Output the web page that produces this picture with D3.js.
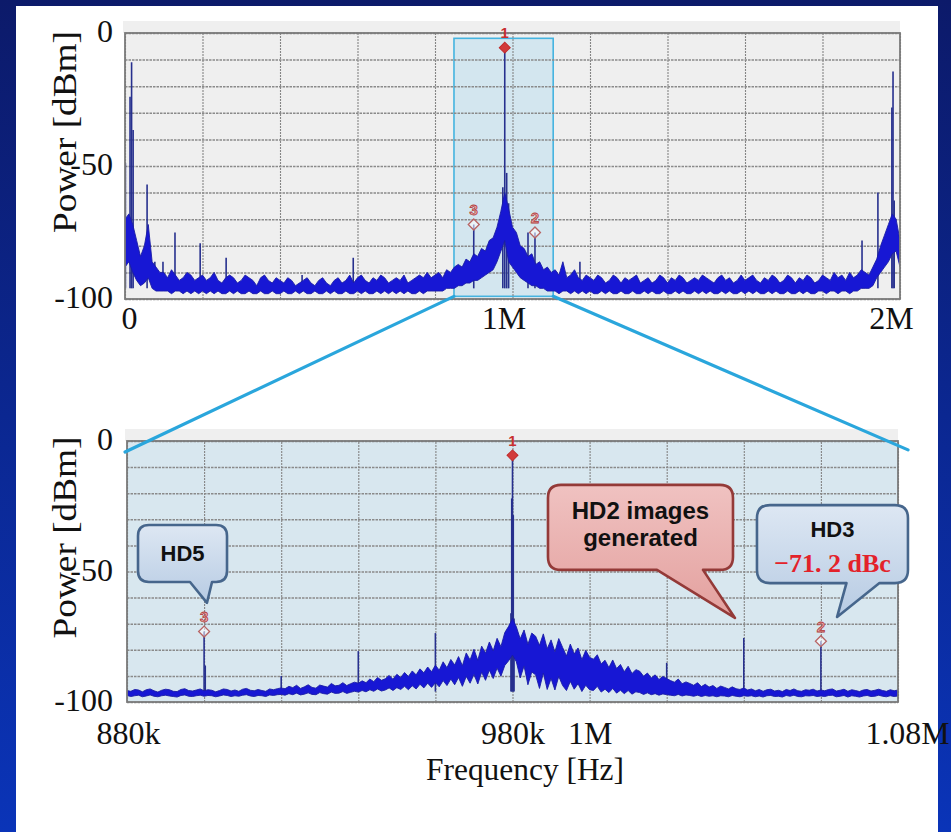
<!DOCTYPE html>
<html>
<head>
<meta charset="utf-8">
<script src="https://cdn.jsdelivr.net/npm/d3@7"></script>
<style>
  html, body { margin: 0; padding: 0; background: #fff; }
  svg { display: block; }
</style>
</head>
<body>
<svg id="chart" width="951" height="832"></svg>
<script>
// ---------- Overview spectrum: 0 .. 2 MHz, 10 kHz bins ----------
const overviewStart = 0;
const overviewStep = 10e3;
// upper edge of the noise band per bin [dBm]
const overviewHi = [
  -70,-68,-72,-78,-84,-80,-72,-86,-88,-90,
  -90,-92,-89,-91,-93,-92,-90,-91,-93,-92,
  -91,-93,-92,-90,-93,-94,-92,-91,-92,-94,
  -93,-91,-92,-93,-95,-92,-91,-93,-94,-92,
  -93,-94,-92,-93,-95,-94,-93,-92,-94,-95,
  -93,-92,-94,-95,-93,-92,-94,-93,-91,-94,
  -92,-91,-93,-94,-92,-93,-91,-92,-94,-93,
  -92,-93,-91,-94,-93,-92,-91,-92,-90,-92,
  -91,-90,-92,-89,-90,-88,-87,-88,-85,-86,
  -83,-84,-81,-82,-78,-77,-73,-67,-60,-66,
  -73,-75,-80,-81,-84,-83,-87,-86,-89,-88,
  -90,-89,-91,-86,-92,-91,-89,-92,-93,-91,
  -92,-93,-91,-92,-94,-93,-91,-92,-94,-92,
  -93,-92,-91,-94,-93,-92,-94,-93,-91,-92,
  -94,-92,-93,-91,-92,-94,-93,-92,-93,-91,
  -92,-93,-94,-92,-91,-93,-92,-94,-93,-91,
  -93,-92,-91,-93,-94,-92,-93,-91,-92,-94,
  -93,-91,-92,-94,-92,-93,-91,-92,-94,-93,
  -91,-92,-93,-90,-92,-91,-93,-90,-92,-91,
  -89,-90,-91,-88,-85,-80,-76,-72,-68,-70,
  -78
];
// lower edge of the noise band per bin [dBm]
const overviewLo = [
  -88,-86,-90,-93,-95,-94,-92,-96,-97,-97,
  -97,-97,-98,-97,-97,-98,-97,-98,-97,-98,
  -97,-98,-97,-98,-97,-98,-98,-97,-98,-97,
  -98,-98,-97,-98,-98,-97,-98,-98,-97,-98,
  -98,-97,-98,-98,-97,-98,-97,-98,-98,-97,
  -98,-98,-97,-98,-97,-98,-98,-97,-98,-98,
  -97,-98,-97,-98,-98,-97,-98,-97,-98,-97,
  -98,-97,-98,-97,-98,-98,-97,-98,-97,-97,
  -97,-97,-97,-96,-96,-96,-95,-95,-94,-94,
  -93,-93,-92,-91,-90,-89,-86,-82,-78,-86,
  -88,-90,-92,-93,-94,-95,-95,-96,-96,-97,
  -97,-97,-98,-97,-97,-98,-97,-98,-97,-98,
  -97,-98,-98,-97,-98,-97,-98,-98,-97,-98,
  -98,-97,-98,-98,-97,-98,-97,-98,-98,-97,
  -98,-98,-97,-98,-97,-98,-98,-97,-98,-97,
  -98,-97,-98,-98,-97,-98,-97,-98,-98,-97,
  -98,-97,-98,-97,-98,-98,-97,-98,-97,-98,
  -98,-97,-98,-98,-97,-98,-97,-98,-98,-97,
  -97,-98,-97,-97,-98,-97,-97,-98,-97,-97,
  -96,-96,-96,-95,-92,-90,-88,-86,-83,-82,
  -88
];
// discrete tones [frequency Hz, dBm]
const overviewSpurs = [
  [1e3,-49],[13e3,-24],[17e3,-11],[21e3,-36.5],[57e3,-57],[77e3,-86],[98e3,-86],
  [129e3,-75],[194e3,-79],[261e3,-84.5],[457e3,-91],[589e3,-84.5],
  [900e3,-72],[975e3,-58],[980e3,-5.5],[985e3,-52.6],[990e3,-64],
  [1040e3,-75],[1058e3,-75],[1174e3,-86],
  [1902e3,-78],[1943e3,-60],[1979e3,-28],[1982e3,-14.5],[1985e3,-63]
];
const overviewMarkers = [
  { id: "1", f: 980e3,  db: -5.5, filled: true },
  { id: "3", f: 900e3,  db: -72,  filled: false },
  { id: "2", f: 1058e3, db: -75,  filled: false }
];
const overviewTicks = [0, 1e6, 2e6];
const overviewTickLabels = ["0", "1M", "2M"];
const overviewGrid = d3.range(0, 2e6 + 1, 200e3);
// frequency span magnified in the lower plot, as outlined on the overview
const zoomWindow = [849e3, 1105e3];

// ---------- Zoomed spectrum: 880 kHz .. 1.08 MHz, 1 kHz bins ----------
const zoomStart = 880e3;
const zoomStep = 1e3;
const zoomHi = [
  -95.6,-95.9,-95.2,-95.4,-96.1,-95.3,-95.0,-95.7,-96.2,-95.5,-95.1,-95.3,-95.9,-96.0,-95.2,-94.9,-95.6,-95.8,-95.4,-95.0,
  -95.7,-95.3,-95.5,-96.1,-95.6,-95.0,-95.2,-95.8,-95.4,-95.9,-95.1,-94.8,-95.5,-95.7,-95.2,-95.6,-95.9,-95.0,-95.3,-94.9,
  -94.6,-94.9,-94.0,-94.5,-93.6,-94.8,-94.2,-93.4,-94.4,-94.7,-93.5,-93.9,-94.3,-92.9,-93.8,-93.6,-92.6,-93.7,-93.0,-92.4,
  -92.8,-91.9,-92.6,-91.2,-92.2,-90.6,-91.7,-91.1,-89.8,-91.3,-89.4,-90.6,-88.7,-90.2,-88.1,-89.6,-87.3,-88.8,-86.6,-88.4,
  -85.9,-87.8,-84.6,-86.9,-83.7,-85.8,-82.6,-86.1,-81.2,-83.9,-79.8,-84.0,-78.6,-81.3,-77.0,-80.4,-75.6,-78.8,-73.4,-71.0,
  -68,
  -71.2,-75.8,-72.4,-77.9,-73.6,-74.8,-78.3,-73.9,-79.6,-76.2,-80.8,-75.7,-79.1,-82.4,-77.8,-81.6,-79.3,-83.8,-80.2,-82.9,
  -83.6,-81.9,-85.4,-84.0,-86.8,-83.9,-87.2,-85.6,-88.4,-86.3,-89.1,-87.6,-88.2,-90.1,-88.9,-90.8,-89.6,-91.4,-90.2,-91.0,
  -91.8,-92.4,-91.2,-93.0,-92.3,-92.9,-93.6,-92.6,-94.1,-93.2,-94.3,-93.7,-94.8,-93.9,-94.4,-95.0,-94.2,-94.9,-95.2,-94.6,
  -95.4,-95.0,-95.7,-95.2,-95.9,-95.3,-95.1,-95.8,-95.5,-96.0,-95.2,-95.6,-95.0,-95.7,-95.9,-95.3,-95.5,-95.1,-95.8,-95.4,
  -95.7,-95.2,-95.0,-95.8,-95.5,-95.1,-95.9,-95.3,-95.6,-96.0,-95.4,-95.2,-95.8,-95.5,-95.1,-95.6,-95.9,-95.3,-95.7,-95.4
];
const zoomLo = [
  -97.5,-97.9,-97.6,-97.4,-98.0,-97.7,-97.3,-97.8,-98.0,-97.6,-97.4,-97.7,-97.9,-98.1,-97.5,-97.3,-97.8,-97.9,-97.6,-97.4,
  -97.8,-97.5,-97.6,-98.0,-97.7,-97.3,-97.5,-97.9,-97.6,-97.8,-97.4,-97.2,-97.7,-97.9,-97.5,-97.6,-97.9,-97.3,-97.5,-97.2,
  -97.1,-97.4,-96.8,-97.2,-96.6,-97.3,-97.0,-96.5,-97.1,-97.2,-96.4,-96.8,-97.0,-96.2,-96.7,-96.6,-96.0,-96.7,-96.3,-95.9,
  -96.2,-95.6,-96.1,-95.3,-95.9,-95.0,-95.8,-95.4,-94.6,-95.6,-94.5,-95.2,-94.0,-95.3,-93.8,-95.0,-93.2,-94.6,-92.8,-94.4,
  -92.6,-94.2,-91.8,-93.7,-91.2,-93.4,-90.6,-94.0,-90.2,-92.8,-89.4,-93.1,-88.6,-91.7,-87.8,-91.0,-87.0,-90.1,-86.0,-84.2,
  -82,
  -84.6,-90.8,-86.2,-93.4,-88.5,-89.6,-94.8,-88.9,-95.2,-91.0,-95.4,-90.2,-93.7,-95.6,-92.1,-95.1,-93.0,-96.0,-93.6,-95.3,
  -95.6,-94.0,-96.2,-95.1,-96.4,-94.8,-96.6,-95.5,-96.8,-95.6,-97.0,-96.1,-96.4,-97.1,-96.5,-97.2,-96.8,-97.4,-96.9,-97.2,
  -97.4,-97.6,-97.1,-97.7,-97.3,-97.5,-97.8,-97.4,-97.9,-97.5,-97.8,-97.6,-98.0,-97.6,-97.7,-98.0,-97.5,-97.8,-98.0,-97.6,
  -97.8,-97.6,-98.0,-97.7,-98.1,-97.6,-97.5,-97.9,-97.8,-98.1,-97.5,-97.8,-97.4,-97.9,-98.0,-97.6,-97.7,-97.5,-97.9,-97.7,
  -97.9,-97.5,-97.4,-98.0,-97.8,-97.5,-98.1,-97.6,-97.8,-98.1,-97.7,-97.5,-97.9,-97.8,-97.4,-97.8,-98.0,-97.6,-97.9,-97.7
];
const zoomSpurs = [
  [900e3,-73],[900.3e3,-86],[920e3,-90],[940e3,-80.5],[960e3,-73.6],
  [979.6e3,-66],[979.8e3,-22],[980e3,-5.5],[980.2e3,-28.4],[980.4e3,-68],
  [1020e3,-85],[1040e3,-75.5],[1060e3,-76.7]
];
const zoomMarkers = [
  { id: "1", f: 980e3,  db: -5.5,  filled: true },
  { id: "3", f: 900e3,  db: -73,   filled: false },
  { id: "2", f: 1060e3, db: -76.7, filled: false }
];
const zoomTicks = [880e3, 980e3, 1e6, 1.08e6];
const zoomTickLabels = ["880k", "980k", "1M", "1.08M"];
const zoomGrid = d3.range(880e3, 1080e3 + 1, 20e3);

// ---------- shared power axis ----------
const powerTicks = [0, -50, -100];
const powerTickLabels = ["0", "-50", "-100"];
const powerGrid = d3.range(0, -101, -10);

// ---------- annotations on the zoomed plot ----------
const calloutLabels = [
  { lines: ["HD5"], f: 894.4e3, db: -43.1, tipF: 900.75e3, tipDb: -62, kind: "blue" },
  { lines: ["HD2 images", "generated"], f: 1013.2e3, db: -33.1, tipF: 1037.7e3, tipDb: -67.8, kind: "red" },
  { lines: ["HD3", "\u221271. 2 dBc"], f: 1063.0e3, db: -39.5, tipF: 1064.2e3, tipDb: -67.4, kind: "blue" }
];

// ================= drawing =================
const svg = d3.select("#chart");
const defs = svg.append("defs");

const bgGrad = defs.append("linearGradient").attr("id", "bgGrad")
  .attr("x1", 0).attr("y1", 0).attr("x2", 0).attr("y2", 1);
bgGrad.append("stop").attr("offset", "0%").attr("stop-color", "#0c1a6a");
bgGrad.append("stop").attr("offset", "100%").attr("stop-color", "#0a34b8");

const blueFill = defs.append("linearGradient").attr("id", "blueFill")
  .attr("x1", 0).attr("y1", 0).attr("x2", 0).attr("y2", 1);
blueFill.append("stop").attr("offset", "0%").attr("stop-color", "#dde7f3");
blueFill.append("stop").attr("offset", "100%").attr("stop-color", "#b7cbe3");

const redFill = defs.append("linearGradient").attr("id", "redFill")
  .attr("x1", 0).attr("y1", 0).attr("x2", 0).attr("y2", 1);
redFill.append("stop").attr("offset", "0%").attr("stop-color", "#f0c2c1");
redFill.append("stop").attr("offset", "100%").attr("stop-color", "#e3a09e");

svg.append("rect").attr("width", 951).attr("height", 832).attr("fill", "url(#bgGrad)");
svg.append("rect").attr("x", 16).attr("y", 6).attr("width", 922).attr("height", 826).attr("fill", "#ffffff");

const serif = "'Liberation Serif', 'DejaVu Serif', serif";
const sans = "'Liberation Sans', Arial, sans-serif";

function drawPanel(o) {
  const x = d3.scaleLinear().domain(o.xDomain).range([o.left, o.right]);
  const y = d3.scaleLinear().domain([0, -100]).range([o.top, o.bottom]);
  const g = svg.append("g");
  const w = o.right - o.left, h = o.bottom - o.top;

  defs.append("clipPath").attr("id", o.id + "-clip")
    .append("rect").attr("x", o.left).attr("y", o.top).attr("width", w).attr("height", h);

  // header strip and plot background
  g.append("rect").attr("x", o.left - 2).attr("y", o.top - 12).attr("width", w + 2).attr("height", 12)
    .attr("fill", "#efefef");
  g.append("rect").attr("x", o.left).attr("y", o.top).attr("width", w).attr("height", h)
    .attr("fill", o.plotFill);

  // magnified span on the overview
  if (o.window) {
    g.append("rect")
      .attr("x", x(o.window[0])).attr("y", y(-2))
      .attr("width", x(o.window[1]) - x(o.window[0])).attr("height", y(-99) - y(-2))
      .attr("fill", "#d3e6ef").attr("stroke", "#45b4e0").attr("stroke-width", 1.6);
  }

  // grid
  const gx = g.append("g").attr("transform", `translate(0,${o.bottom})`)
    .call(d3.axisBottom(x).tickValues(o.grid).tickSize(-h).tickFormat(""));
  gx.select(".domain").remove();
  gx.selectAll("line").attr("stroke", "#858585").attr("stroke-width", 1.1).attr("stroke-dasharray", "2,1");
  const gy = g.append("g").attr("transform", `translate(${o.left},0)`)
    .call(d3.axisLeft(y).tickValues(powerGrid).tickSize(-w).tickFormat(""));
  gy.select(".domain").remove();
  gy.selectAll("line").attr("stroke", "#8a8a8a").attr("stroke-width", 1.5).attr("stroke-dasharray", "2.5,1");

  // spectrum: tones as stems, noise floor as a band between its edges
  const bins = o.hi.map((v, i) => ({ f: o.start + i * o.step, hi: v, lo: o.lo[i] }));
  const plot = g.append("g").attr("clip-path", `url(#${o.id}-clip)`);
  plot.selectAll(".spur").data(o.spurs).join("line")
    .attr("x1", d => x(d[0])).attr("x2", d => x(d[0]))
    .attr("y1", y(-96)).attr("y2", d => y(d[1]))
    .attr("stroke", "#27308e").attr("stroke-width", 1.6);
  plot.append("path").datum(bins)
    .attr("d", d3.area().x(d => x(d.f)).y0(d => y(d.lo)).y1(d => y(d.hi)))
    .attr("fill", "#1717d4").attr("stroke", "#1a1ca6").attr("stroke-width", 0.9);

  // frame
  g.append("rect").attr("x", o.left).attr("y", o.top).attr("width", w).attr("height", h)
    .attr("fill", "none").attr("stroke", "#7a7a7a").attr("stroke-width", 1.8);

  // markers
  const mk = g.selectAll(".marker").data(o.markers).join("g")
    .attr("transform", d => `translate(${x(d.f)},${y(d.db)})`);
  mk.append("path")
    .attr("d", d3.symbol(d3.symbolSquare, 60)())
    .attr("transform", "rotate(45)")
    .attr("fill", d => d.filled ? "#d23a3a" : "rgba(255,255,255,0.55)")
    .attr("stroke", d => d.filled ? "#c02828" : "#b86464")
    .attr("stroke-width", d => d.filled ? 1 : 1.3);
  mk.append("text").text(d => d.id)
    .attr("y", -15).attr("text-anchor", "middle").attr("dominant-baseline", "central")
    .attr("font-family", sans).attr("font-weight", "bold").attr("font-size", 15)
    .attr("fill", d => d.filled ? "#c83030" : "#eab0b0")
    .attr("stroke", d => d.filled ? "none" : "#b03a3a").attr("stroke-width", 0.8);

  // frequency tick labels
  const ax = g.append("g").attr("transform", `translate(0,${o.labelY})`)
    .call(d3.axisBottom(x).tickValues(o.ticks).tickFormat((d, i) => o.tickLabels[i]).tickSize(0).tickPadding(0));
  ax.select(".domain").remove();
  ax.selectAll("text").attr("y", 0).attr("dy", 0)
    .attr("dx", (d, i) => o.tickNudge[i])
    .attr("font-family", serif).attr("font-size", 32).attr("fill", "#111");
  if (o.lastLabelLength) {
    ax.selectAll("text").filter((d, i) => i === o.ticks.length - 1)
      .attr("textLength", o.lastLabelLength).attr("lengthAdjust", "spacingAndGlyphs");
  }

  // power tick labels
  const ay = g.append("g").attr("transform", `translate(113,0)`)
    .call(d3.axisLeft(y).tickValues(powerTicks).tickFormat((d, i) => powerTickLabels[i]).tickSize(0).tickPadding(0));
  ay.select(".domain").remove();
  ay.selectAll("text").attr("x", 0).attr("y", -2).attr("dy", "0.34em")
    .attr("font-family", serif).attr("font-size", 32).attr("fill", "#111");

  // power axis title
  g.append("text").text("Power [dBm]")
    .attr("transform", `translate(76,${(o.top + o.bottom) / 2 - 34}) rotate(-90)`)
    .attr("text-anchor", "middle").attr("font-family", serif).attr("font-size", 33)
    .attr("textLength", 202).attr("lengthAdjust", "spacingAndGlyphs").attr("fill", "#111");

  return { x, y, g };
}

const overviewPanel = drawPanel({
  id: "overview", xDomain: [0, 2e6], left: 125, right: 900, top: 33, bottom: 299,
  plotFill: "#efefef", grid: overviewGrid, hi: overviewHi, lo: overviewLo,
  start: overviewStart, step: overviewStep, spurs: overviewSpurs, markers: overviewMarkers,
  ticks: overviewTicks, tickLabels: overviewTickLabels, tickNudge: [4, -9, -9], labelY: 329,
  window: zoomWindow
});

const zoomPanel = drawPanel({
  id: "zoom", xDomain: [880e3, 1080e3], left: 127, right: 898, top: 441, bottom: 702,
  plotFill: "#d8e7ef", grid: zoomGrid, hi: zoomHi, lo: zoomLo,
  start: zoomStart, step: zoomStep, spurs: zoomSpurs, markers: zoomMarkers,
  ticks: zoomTicks, tickLabels: zoomTickLabels, tickNudge: [1, 0, 0, 9], labelY: 744,
  lastLabelLength: 84
});

// frequency axis title
svg.append("text").text("Frequency [Hz]")
  .attr("x", 525).attr("y", 780).attr("text-anchor", "middle")
  .attr("font-family", serif).attr("font-size", 31).attr("fill", "#111")
  .attr("textLength", 198).attr("lengthAdjust", "spacingAndGlyphs");

// connectors from the outlined span to the magnified plot
const connectors = [
  [overviewPanel.x(zoomWindow[0]), overviewPanel.y(-99), zoomPanel.x(879.5e3), zoomPanel.y(-4.2)],
  [overviewPanel.x(zoomWindow[1]), overviewPanel.y(-99), zoomPanel.x(1082.6e3), zoomPanel.y(-3.4)]
];
svg.selectAll(".connector").data(connectors).join("line")
  .attr("x1", d => d[0]).attr("y1", d => d[1]).attr("x2", d => d[2]).attr("y2", d => d[3])
  .attr("stroke", "#2aa6dc").attr("stroke-width", 3.2).attr("stroke-linecap", "round");

// speech-bubble callouts
const calloutBox = [
  { w: 89,  h: 57, r: 11, b0: 7.5, b1: 29.5 },
  { w: 185, h: 85, r: 13, b0: 16.5, b1: 62.5 },
  { w: 151, h: 78, r: 13, b0: 14, b1: 47 }
];
function bubblePath(cx, cy, b, tx, ty) {
  const x0 = cx - b.w / 2, x1 = cx + b.w / 2, y0 = cy - b.h / 2, y1 = cy + b.h / 2, r = b.r;
  return `M${x0 + r},${y0}H${x1 - r}Q${x1},${y0} ${x1},${y0 + r}V${y1 - r}Q${x1},${y1} ${x1 - r},${y1}` +
    `H${cx + b.b1}L${tx},${ty}L${cx + b.b0},${y1}H${x0 + r}Q${x0},${y1} ${x0},${y1 - r}V${y0 + r}Q${x0},${y0} ${x0 + r},${y0}Z`;
}
calloutLabels.forEach((c, i) => {
  const b = calloutBox[i];
  const cx = zoomPanel.x(c.f), cy = zoomPanel.y(c.db);
  const g = svg.append("g");
  g.append("path").attr("d", bubblePath(cx, cy, b, zoomPanel.x(c.tipF), zoomPanel.y(c.tipDb)))
    .attr("fill", c.kind === "red" ? "url(#redFill)" : "url(#blueFill)")
    .attr("stroke", c.kind === "red" ? "#943a38" : "#46668c")
    .attr("stroke-width", 2.6).attr("stroke-linejoin", "round");
  if (c.lines.length === 1) {
    g.append("text").text(c.lines[0]).attr("x", cx).attr("y", cy + 8)
      .attr("text-anchor", "middle").attr("font-family", sans).attr("font-weight", "bold")
      .attr("font-size", 22).attr("fill", "#111");
  } else if (c.kind === "red") {
    c.lines.forEach((t, j) => {
      g.append("text").text(t).attr("x", cx).attr("y", cy - 8.5 + j * 27.5)
        .attr("text-anchor", "middle").attr("font-family", sans).attr("font-weight", "bold")
        .attr("font-size", 24).attr("fill", "#111");
    });
  } else {
    g.append("text").text(c.lines[0]).attr("x", cx).attr("y", cy - 7)
      .attr("text-anchor", "middle").attr("font-family", sans).attr("font-weight", "bold")
      .attr("font-size", 22).attr("fill", "#111");
    g.append("text").text(c.lines[1]).attr("x", cx).attr("y", cy + 28)
      .attr("text-anchor", "middle").attr("font-family", serif).attr("font-weight", "bold")
      .attr("font-size", 26).attr("fill", "#e3222a");
  }
});
</script>
</body>
</html>
